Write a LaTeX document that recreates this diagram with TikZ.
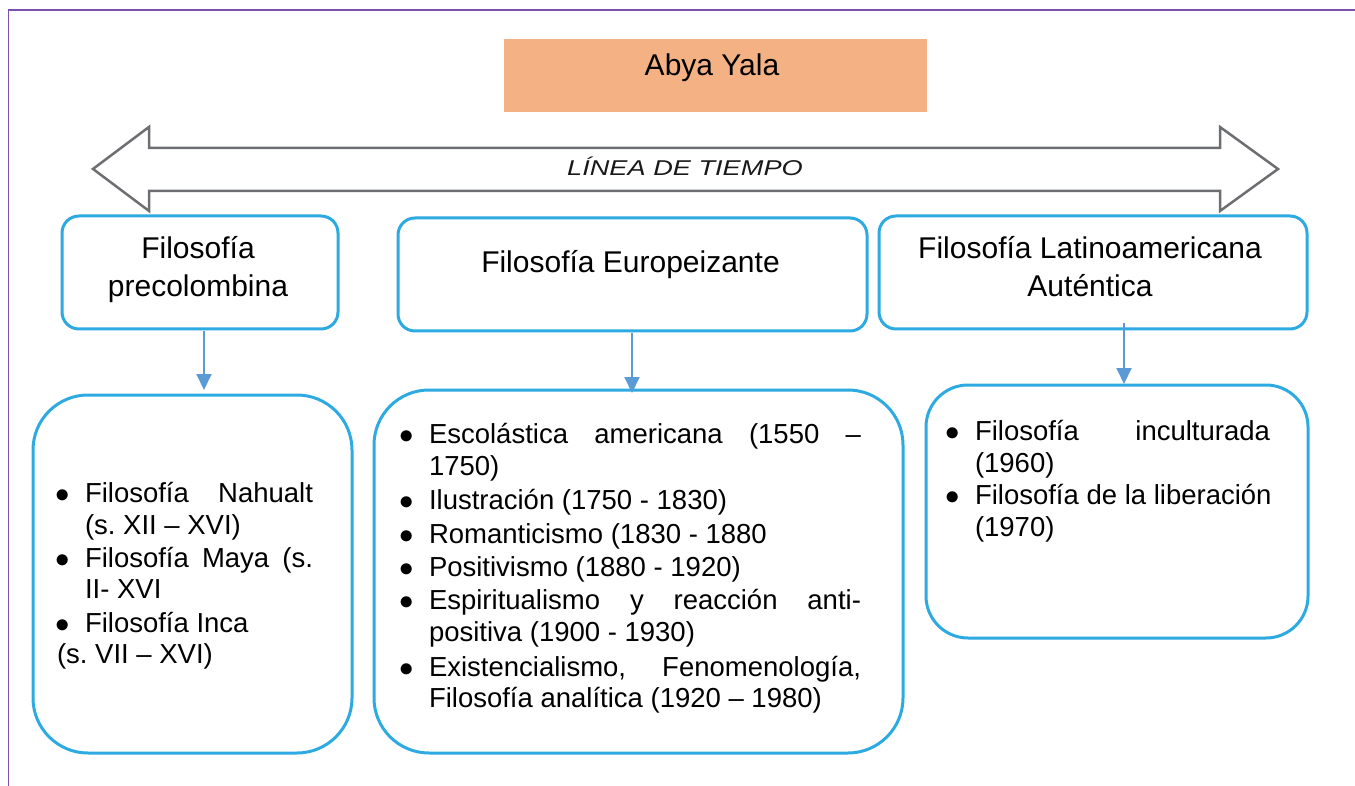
\documentclass[tikz,border=0pt]{standalone}
\usepackage{fontspec}
\usepackage{graphicx}
\setmainfont{Liberation Sans}
\usetikzlibrary{calc,arrows.meta}
\frenchspacing
\newlength\pxu
\setlength\pxu{0.5pt}
\definecolor{boxblue}{HTML}{2DAAE1}
\definecolor{arrblue}{HTML}{5B9BD5}
\definecolor{tlgray}{HTML}{6D6E71}
\definecolor{abyaor}{HTML}{F4B183}
\definecolor{framepurple}{HTML}{7E4FB0}
\tikzset{
  hbox/.style={draw=boxblue, line width=3\pxu, rounded corners=17\pxu, inner sep=0, outer sep=0, minimum height=113\pxu},
  bbox/.style={draw=boxblue, line width=3\pxu, inner sep=0, outer sep=0},
  conn/.style={draw=arrblue, line width=1pt, -{Triangle[width=7.5pt,length=8pt]}, fill=arrblue},
  hd/.style={anchor=base, inner sep=0, outer sep=0, font=\fontsize{15}{18}\selectfont},
  txt/.style={anchor=base west, inner sep=0, outer sep=0, font=\fontsize{13.75}{16}\selectfont},
  bul/.style={anchor=base, inner sep=0, outer sep=0, font=\fontsize{15}{18}\selectfont},
}
\begin{document}
\begin{tikzpicture}[x=0.5pt,y=-0.5pt]
\useasboundingbox (0,0) rectangle (1355,786);
% frame
\draw[framepurple, line width=1.5\pxu] (8.5,786) -- (8.5,10) -- (1355,10);
% title
\node[fill=abyaor, inner sep=0, outer sep=0, minimum width=423\pxu, minimum height=73\pxu] (abya) at (715.5,75.5) {};
\node[hd] (abyat) at (712,76) {Abya Yala};
% timeline
\draw[tlgray, line width=2.5\pxu, line join=miter]
  (93,169) -- (149,127) -- (149,148) -- (1220,148) -- (1220,127) -- (1278,169)
  -- (1220,211) -- (1220,191) -- (149,191) -- (149,211) -- cycle;
\node[anchor=base, inner sep=0, font=\fontsize{10.7}{12}\selectfont\itshape, text=black!90] (tl) at (685,176) {\scalebox{1.27}[1]{LÍNEA DE TIEMPO}};
% header boxes
\node[hbox, minimum width=276\pxu] (h1) at (200,272.5) {};
\node[hbox, minimum width=469\pxu] (h2) at (632.5,274.5) {};
\node[hbox, minimum width=428\pxu] (h3) at (1093,272.5) {};
\node[hd] (h1a) at (198,259) {Filosofía};
\node[hd] (h1b) at (198,297) {precolombina};
\node[hd] (h2a) at (630.5,273) {Filosofía Europeizante};
\node[hd] (h3a) at (1090,259) {Filosofía Latinoamericana};
\node[hd] (h3b) at (1090,297) {Auténtica};
% content boxes
\node[bbox, rounded corners=55\pxu, minimum width=319\pxu, minimum height=358\pxu] (b1) at (192.5,574) {};
\node[bbox, rounded corners=55\pxu, minimum width=529\pxu, minimum height=363\pxu] (b2) at (638.5,571.5) {};
\node[bbox, rounded corners=42\pxu, minimum width=382\pxu, minimum height=253\pxu] (b3) at (1117,511.5) {};
% connectors
\draw[conn] ($(h1.south)+(4,2)$) -- ($(b1.north)+(11.5,-5)$);
\draw[conn] ($(h2.south)+(-0.5,2)$) -- ($(b2.north)+(-6.5,3)$);
\draw[conn] ($(h3.south)+(31,-6)$) -- ($(b3.north)+(7,-1)$);
% box 1 text
\node[bul] (p1) at (63,502) {$\bullet$};
\node[txt] (a1) at (85,502) {\makebox[228\pxu][s]{Filosofía Nahualt}};
\node[txt] (a2) at (85,534) {(s. XII – XVI)};
\node[bul] (p2) at (63,567) {$\bullet$};
\node[txt] (a3) at (85,567) {\makebox[228\pxu][s]{Filosofía Maya (s.}};
\node[txt] (a4) at (85,598) {II- XVI};
\node[bul] (p3) at (63,632) {$\bullet$};
\node[txt] (a5) at (85,632) {Filosofía Inca};
\node[txt] (a6) at (57,663) {(s. VII – XVI)};
% box 2 text
\node[bul] (q1) at (407,443) {$\bullet$};
\node[txt] (c1) at (429,443) {\makebox[432\pxu][s]{Escolástica americana (1550 –}};
\node[txt] (c2) at (429,475) {1750)};
\node[bul] (q2) at (407,509) {$\bullet$};
\node[txt] (c3) at (429,509) {Ilustración (1750 - 1830)};
\node[bul] (q3) at (407,543) {$\bullet$};
\node[txt] (c4) at (429,543) {Romanticismo (1830 - 1880};
\node[bul] (q4) at (407,576) {$\bullet$};
\node[txt] (c5) at (429,576) {Positivismo (1880 - 1920)};
\node[bul] (q5) at (407,609) {$\bullet$};
\node[txt] (c6) at (429,609) {\makebox[432\pxu][s]{Espiritualismo y reacción anti-}};
\node[txt] (c7) at (429,641) {positiva (1900 - 1930)};
\node[bul] (q6) at (407,676) {$\bullet$};
\node[txt] (c8) at (429,676) {\makebox[432\pxu][s]{Existencialismo, Fenomenología,}};
\node[txt] (c9) at (429,707) {Filosofía analítica (1920 – 1980)};
% box 3 text
\node[bul] (r1) at (953,440) {$\bullet$};
\node[txt] (d1) at (975,440) {\makebox[295\pxu][s]{Filosofía inculturada}};
\node[txt] (d2) at (975,472) {(1960)};
\node[bul] (r2) at (953,504) {$\bullet$};
\node[txt] (d3) at (975,504) {Filosofía de la liberación};
\node[txt] (d4) at (975,536) {(1970)};
\end{tikzpicture}
\end{document}
